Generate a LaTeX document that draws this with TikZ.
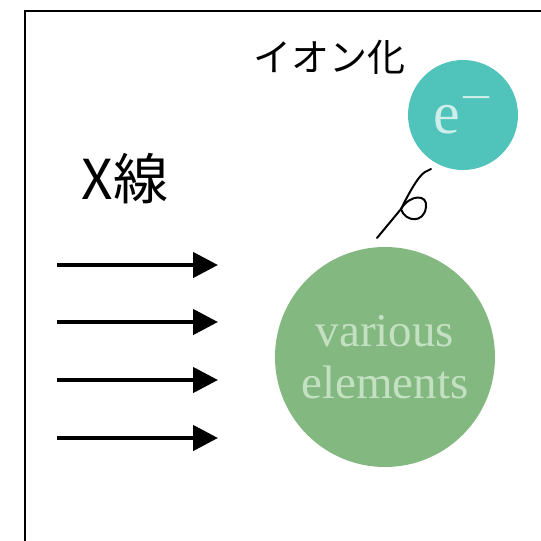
\documentclass[tikz,border=0pt]{standalone}
\usepackage{fontspec}
\usepackage{graphicx}
\setmainfont{Liberation Serif}
\newfontfamily\jpfont{Noto Sans CJK JP}
\usetikzlibrary{arrows.meta}
\definecolor{elemgreen}{RGB}{131,185,128}
\definecolor{elemtext}{RGB}{196,224,194}
\definecolor{electeal}{RGB}{80,195,186}
\definecolor{electext}{RGB}{205,238,234}
\tikzset{
  atom/.style={circle,draw=none,fill=elemgreen,text=elemtext,
    minimum size=220pt,inner sep=0pt,align=center,
    font=\fontsize{47}{52}\selectfont},
  electron/.style={circle,draw=none,fill=electeal,text=electext,
    minimum size=110pt,inner sep=0pt,
    font=\fontsize{60}{62}\selectfont},
  jplab/.style={font=\jpfont\fontsize{38}{40}\selectfont,inner sep=0pt},
  xray/.style={-{Triangle[length=25pt,width=25pt]},line width=4.5pt},
  trail/.style={line width=2pt,line cap=round,line join=round}
}
\begin{document}
\begin{tikzpicture}[x=1pt,y=-1pt]
  \useasboundingbox (0,0) rectangle (541,541);
  % frame
  \draw[line width=2pt] (25,11) rectangle (600,600);
  % labels
  \node[jplab] (ion) at (329,57) {イオン化};
  \node[jplab,font=\jpfont\fontsize{55}{57}\selectfont] (xlab) at (125,179) {X線};
  % particles
  \node[atom] (atom) at (385,357) {various\\elements};
  \node[electron] (elec) at (463,115)
    {e\raisebox{22pt}{\scalebox{1.35}[1]{\fontsize{42}{42}\selectfont −}}};
  % incoming x-rays
  \foreach \y [count=\i] in {265,322,380,438}{
    \coordinate (in\i) at (57,\y);
    \coordinate (out\i) at (218,\y);
    \draw[xray] (in\i) -- (out\i);
  }
  % ejected electron trail
  \coordinate (tstart) at (377,238);
  \coordinate (tloop) at (401,209);
  \coordinate (tend) at (431,169);
  \draw[trail] (tstart) -- (tloop)
    .. controls (408,195) and (418,176) .. (425,172) -- (tend);
  \draw[trail] (tloop) .. controls (405,222) and (424,224) .. (426,207)
    .. controls (428,194) and (410,194) .. (tloop);
\end{tikzpicture}
\end{document}
